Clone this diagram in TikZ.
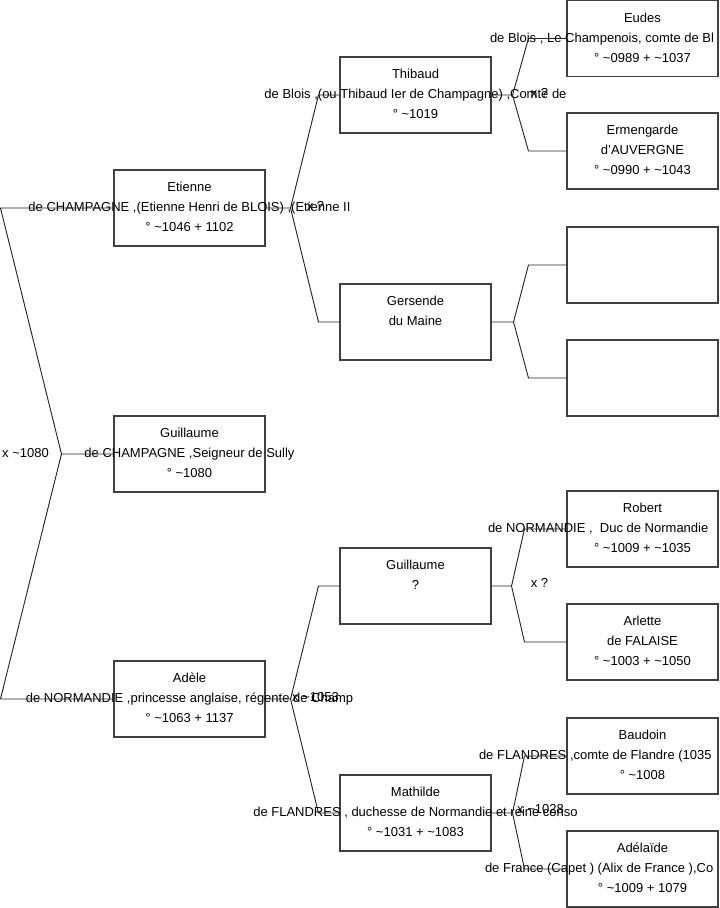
\documentclass[tikz,border=0pt]{standalone}
\usepackage{fontspec}
\setmainfont{Liberation Sans}
\usetikzlibrary{calc}

\newcommand\abt{\textasciitilde}

\begin{document}
\begin{tikzpicture}[x=0.75pt, y=-0.75pt,
    person/.style={draw=black!75, line width=0.8pt, minimum width=113.25pt,
                   minimum height=57pt, inner sep=0pt},
    ident/.style={anchor=north, align=center, inner sep=0pt, yshift=-9.4pt,
                  font=\fontsize{9.75}{15}\selectfont},
    link/.style={draw=black!85, line width=0.7pt},
    union/.style={inner sep=0pt, font=\fontsize{9.75}{15}\selectfont}
  ]
  \useasboundingbox (0,0) rectangle (719,908);

  % generation 1
  \node[person] (etienne) at (189.5, 208) {};
  \node[person] (guillaume) at (189.5, 454) {};
  \node[person] (adele) at (189.5, 699) {};

  % generation 2
  \node[person] (thibaud) at (415.5, 95) {};
  \node[person] (gersende) at (415.5, 322) {};
  \node[person] (guillaumeN) at (415.5, 586) {};
  \node[person] (mathilde) at (415.5, 813) {};

  % generation 3
  \node[person] (eudes) at (642.5, 38.5) {};
  \node[person] (ermengarde) at (642.5, 151) {};
  \node[person] (inconnu1) at (642.5, 265) {};
  \node[person] (inconnu2) at (642.5, 378) {};
  \node[person] (robert) at (642.5, 529) {};
  \node[person] (arlette) at (642.5, 642) {};
  \node[person] (baudoin) at (642.5, 756) {};
  \node[person] (adelaide) at (642.5, 869) {};

  \node[ident] (etienne-t) at (etienne.north)
    {Etienne\\de CHAMPAGNE ,(Etienne Henri de BLOIS) ,(Etienne II\\° \abt1046 + 1102};
  \node[ident] (guillaume-t) at (guillaume.north)
    {Guillaume\\de CHAMPAGNE ,Seigneur de Sully\\° \abt1080};
  \node[ident] (adele-t) at (adele.north)
    {Adèle\\de NORMANDIE ,princesse anglaise, régente de Champ\\° \abt1063 + 1137};
  \node[ident] (thibaud-t) at (thibaud.north)
    {Thibaud\\de Blois ,(ou Thibaud Ier de Champagne) ,Comte de\\° \abt1019};
  \node[ident] (gersende-t) at (gersende.north) {Gersende\\du Maine};
  \node[ident] (guillaumeN-t) at (guillaumeN.north) {Guillaume\\?};
  \node[ident] (mathilde-t) at (mathilde.north)
    {Mathilde\\de FLANDRES , duchesse de Normandie et reine conso\\° \abt1031 + \abt1083};
  \node[ident] (eudes-t) at (eudes.north)
    {Eudes\\\makebox[228.75pt][l]{de Blois , Le Champenois, comte de Bl}\\° \abt0989 + \abt1037};
  \node[ident] (ermengarde-t) at (ermengarde.north)
    {Ermengarde\\d'AUVERGNE\\° \abt0990 + \abt1043};
  \node[ident] (robert-t) at (robert.north)
    {Robert\\\makebox[231.75pt][l]{de NORMANDIE , \ Duc de Normandie}\\° \abt1009 + \abt1035};
  \node[ident] (arlette-t) at (arlette.north)
    {Arlette\\de FALAISE\\° \abt1003 + \abt1050};
  \node[ident] (baudoin-t) at (baudoin.north)
    {Baudoin\\\makebox[245.25pt][l]{de FLANDRES ,comte de Flandre (1035}\\° \abt1008};
  \node[ident] (adelaide-t) at (adelaide.north)
    {Adélaïde\\\makebox[236.25pt][l]{de France (Capet ) (Alix de France ),Co}\\° \abt1009 + 1079};

  % forks
  \draw[link] (guillaume.west) -- ++(-52,0) coordinate (v-guillaume)
    -- ($(etienne.west)+(-113,0)$) -- (etienne.west);
  \draw[link] (v-guillaume) -- ($(adele.west)+(-113,0)$) -- (adele.west);

  \draw[link] (etienne.east) -- ++(25,0) coordinate (v-etienne)
    -- ($(thibaud.west)+(-21,0)$) -- (thibaud.west);
  \draw[link] (v-etienne) -- ($(gersende.west)+(-21,0)$) -- (gersende.west);

  \draw[link] (adele.east) -- ++(25,0) coordinate (v-adele)
    -- ($(guillaumeN.west)+(-21,0)$) -- (guillaumeN.west);
  \draw[link] (v-adele) -- ($(mathilde.west)+(-21,0)$) -- (mathilde.west);

  \draw[link] (thibaud.east) -- ++(21,0) coordinate (v-thibaud)
    -- ($(eudes.west)+(-38,0)$) -- (eudes.west);
  \draw[link] (v-thibaud) -- ($(ermengarde.west)+(-38,0)$) -- (ermengarde.west);

  \draw[link] (gersende.east) -- ++(22,0) coordinate (v-gersende)
    -- ($(inconnu1.west)+(-38,0)$) -- (inconnu1.west);
  \draw[link] (v-gersende) -- ($(inconnu2.west)+(-38,0)$) -- (inconnu2.west);

  \draw[link] (guillaumeN.east) -- ++(20,0) coordinate (v-guillaumeN)
    -- ($(robert.west)+(-42,0)$) -- (robert.west);
  \draw[link] (v-guillaumeN) -- ($(arlette.west)+(-42,0)$) -- (arlette.west);

  \draw[link] (mathilde.east) -- ++(21,0) coordinate (v-mathilde)
    -- ($(baudoin.west)+(-42,0)$) -- (baudoin.west);
  \draw[link] (v-mathilde) -- ($(adelaide.west)+(-42,0)$) -- (adelaide.west);

  % unions
  \node[union] (u-guillaume) at ($(v-guillaume)+(-36,-1)$) {x \abt1080};
  \node[union] (u-etienne) at ($(v-etienne)+(25,-2)$) {x ?};
  \node[union] (u-adele) at ($(v-adele)+(25,-2)$) {x \abt1053};
  \node[union] (u-thibaud) at ($(v-thibaud)+(27,-2)$) {x ?};
  \node[union] (u-guillaumeN) at ($(v-guillaumeN)+(28,-3)$) {x ?};
  \node[union] (u-mathilde) at ($(v-mathilde)+(28,-4)$) {x \abt1028};
\end{tikzpicture}
\end{document}
